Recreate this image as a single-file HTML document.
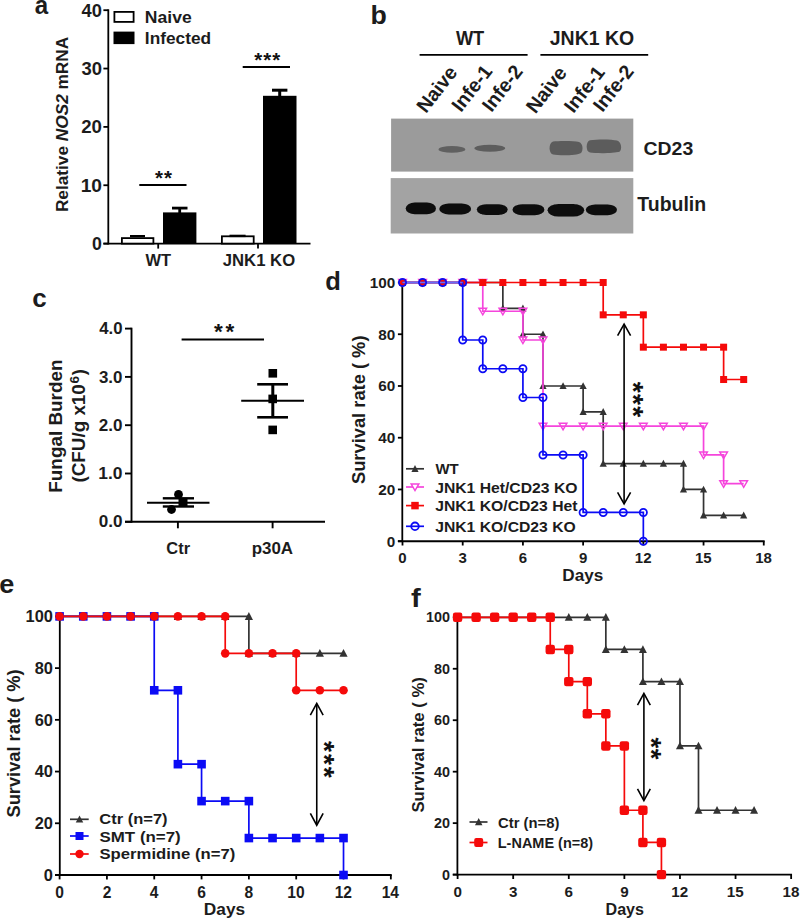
<!DOCTYPE html>
<html><head><meta charset="utf-8"><style>html,body{margin:0;padding:0;background:#fff;}svg{display:block;}text{font-family:"Liberation Sans",sans-serif;}</style></head>
<body>
<svg width="800" height="920" viewBox="0 0 800 920" font-family="Liberation Sans, sans-serif">
<rect width="800" height="920" fill="#fff"/>
<text x="34.78" y="13.9" font-size="26" textLength="13.43" lengthAdjust="spacingAndGlyphs" fill="#1c1c1c" style="font-weight:bold">a</text>
<line x1="108.3" y1="9.3" x2="108.3" y2="244.5" stroke="#000" stroke-width="1.8" stroke-linecap="butt"/>
<line x1="103.4" y1="243.6" x2="310.5" y2="243.6" stroke="#000" stroke-width="1.8" stroke-linecap="butt"/>
<line x1="103.4" y1="243.6" x2="108.3" y2="243.6" stroke="#000" stroke-width="1.8" stroke-linecap="butt"/>
<text x="92.09" y="249.9" font-size="17.5" textLength="9.84" lengthAdjust="spacingAndGlyphs" fill="#1c1c1c" style="font-weight:bold">0</text>
<line x1="103.4" y1="185.25" x2="108.3" y2="185.25" stroke="#000" stroke-width="1.8" stroke-linecap="butt"/>
<text x="80.65" y="191.55" font-size="17.5" textLength="21.36" lengthAdjust="spacingAndGlyphs" fill="#1c1c1c" style="font-weight:bold">10</text>
<line x1="103.4" y1="126.9" x2="108.3" y2="126.9" stroke="#000" stroke-width="1.8" stroke-linecap="butt"/>
<text x="81.25" y="133.2" font-size="17.5" textLength="20.74" lengthAdjust="spacingAndGlyphs" fill="#1c1c1c" style="font-weight:bold">20</text>
<line x1="103.4" y1="68.55" x2="108.3" y2="68.55" stroke="#000" stroke-width="1.8" stroke-linecap="butt"/>
<text x="81.44" y="74.85" font-size="17.5" textLength="20.54" lengthAdjust="spacingAndGlyphs" fill="#1c1c1c" style="font-weight:bold">30</text>
<line x1="103.4" y1="10.2" x2="108.3" y2="10.2" stroke="#000" stroke-width="1.8" stroke-linecap="butt"/>
<text x="81.63" y="16.5" font-size="17.5" textLength="20.35" lengthAdjust="spacingAndGlyphs" fill="#1c1c1c" style="font-weight:bold">40</text>
<line x1="158.2" y1="243.6" x2="158.2" y2="248.6" stroke="#000" stroke-width="1.8" stroke-linecap="butt"/>
<line x1="258" y1="243.6" x2="258" y2="248.6" stroke="#000" stroke-width="1.8" stroke-linecap="butt"/>
<rect x="121.9" y="238.1" width="31.5" height="5.5" fill="#fff" stroke="#000" stroke-width="1.8"/>
<line x1="130" y1="236.1" x2="145" y2="236.1" stroke="#000" stroke-width="2.2" stroke-linecap="butt"/>
<rect x="163" y="212.4" width="33.4" height="31.2" fill="#000"/>
<line x1="172" y1="208.1" x2="187.5" y2="208.1" stroke="#000" stroke-width="2.8" stroke-linecap="butt"/>
<line x1="179.7" y1="208" x2="179.7" y2="213" stroke="#000" stroke-width="2.8" stroke-linecap="butt"/>
<rect x="221.9" y="236.3" width="31.8" height="7.3" fill="#fff" stroke="#000" stroke-width="1.8"/>
<line x1="229.5" y1="235.9" x2="245.6" y2="235.9" stroke="#000" stroke-width="2.4" stroke-linecap="butt"/>
<rect x="263" y="95.8" width="33.5" height="147.8" fill="#000"/>
<line x1="272" y1="90.2" x2="287.4" y2="90.2" stroke="#000" stroke-width="3" stroke-linecap="butt"/>
<line x1="279.7" y1="90" x2="279.7" y2="96" stroke="#000" stroke-width="3" stroke-linecap="butt"/>
<line x1="139.3" y1="185" x2="186.5" y2="185" stroke="#000" stroke-width="2" stroke-linecap="butt"/>
<text x="155.04" y="185.1" font-size="20.5" fill="#111" style="font-weight:bold">*</text>
<text x="164.04" y="185.1" font-size="20.5" fill="#111" style="font-weight:bold">*</text>
<line x1="242.7" y1="67" x2="290" y2="67" stroke="#000" stroke-width="2" stroke-linecap="butt"/>
<text x="254.14" y="67.1" font-size="20.5" fill="#111" style="font-weight:bold">*</text>
<text x="263.14" y="67.1" font-size="20.5" fill="#111" style="font-weight:bold">*</text>
<text x="272.14" y="67.1" font-size="20.5" fill="#111" style="font-weight:bold">*</text>
<rect x="114.4" y="11.9" width="19.2" height="10" fill="#fff" stroke="#000" stroke-width="1.8"/>
<rect x="113.5" y="31.6" width="21" height="12.5" fill="#000"/>
<text x="144.86" y="23" font-size="17.2" textLength="46.82" lengthAdjust="spacingAndGlyphs" fill="#1c1c1c" style="font-weight:bold">Naive</text>
<text x="144.88" y="43.5" font-size="17.2" textLength="66.23" lengthAdjust="spacingAndGlyphs" fill="#1c1c1c" style="font-weight:bold">Infected</text>
<text x="145.6" y="266" font-size="17.2" textLength="25.56" lengthAdjust="spacingAndGlyphs" fill="#1c1c1c" style="font-weight:bold">WT</text>
<text x="222.75" y="266" font-size="17.2" textLength="72.39" lengthAdjust="spacingAndGlyphs" fill="#1c1c1c" style="font-weight:bold">JNK1 KO</text>
<text transform="translate(67.9 212.12) rotate(-90)" font-size="16.8" textLength="175.35" lengthAdjust="spacingAndGlyphs" fill="#1c1c1c" style="font-weight:bold">Relative <tspan style="font-style:italic">NOS2</tspan> mRNA</text>
<text x="370.56" y="24.2" font-size="26" textLength="16.33" lengthAdjust="spacingAndGlyphs" fill="#1c1c1c" style="font-weight:bold">b</text>
<text x="455.9" y="44.75" font-size="19.4" textLength="28.38" lengthAdjust="spacingAndGlyphs" fill="#1c1c1c" style="font-weight:bold">WT</text>
<text x="549.76" y="44.75" font-size="19.3" textLength="84.46" lengthAdjust="spacingAndGlyphs" fill="#1c1c1c" style="font-weight:bold">JNK1 KO</text>
<line x1="419.6" y1="54.9" x2="527.6" y2="54.9" stroke="#000" stroke-width="1.7" stroke-linecap="butt"/>
<line x1="540.4" y1="54.9" x2="648.2" y2="54.9" stroke="#000" stroke-width="1.7" stroke-linecap="butt"/>
<text transform="translate(426 114) rotate(-52)" font-size="19.7" fill="#1c1c1c" style="font-weight:bold">Naive</text>
<text transform="translate(461 113) rotate(-52)" font-size="19.7" fill="#1c1c1c" style="font-weight:bold">Infe-1</text>
<text transform="translate(491.5 113) rotate(-52)" font-size="19.7" fill="#1c1c1c" style="font-weight:bold">Infe-2</text>
<text transform="translate(535.5 114.5) rotate(-52)" font-size="19.7" fill="#1c1c1c" style="font-weight:bold">Naive</text>
<text transform="translate(573.5 114) rotate(-52)" font-size="19.7" fill="#1c1c1c" style="font-weight:bold">Infe-1</text>
<text transform="translate(602.5 113) rotate(-52)" font-size="19.7" fill="#1c1c1c" style="font-weight:bold">Infe-2</text>
<defs><filter id="bl" x="-30%" y="-80%" width="160%" height="260%"><feGaussianBlur stdDeviation="1.3"/></filter><filter id="bl2" x="-30%" y="-80%" width="160%" height="260%"><feGaussianBlur stdDeviation="0.7"/></filter></defs>
<rect x="391.1" y="118.6" width="242.2" height="53" fill="#9b9b9b"/>
<rect x="390.7" y="178.1" width="242.6" height="55.4" fill="#a3a3a3"/>
<ellipse cx="451.9" cy="149.4" rx="13.4" ry="3.3" fill="#616161" filter="url(#bl2)"/>
<ellipse cx="489.8" cy="148.2" rx="15.4" ry="3.5" fill="#5d5d5d" filter="url(#bl2)"/>
<path d="M553,141.6 C560,140.6 574,140.8 579,142 C583,143.5 583.5,150 581,153 C577,155.6 560,155.8 553,154.6 C548.5,153.6 548.3,143 553,141.6 Z" fill="#5b5b5b" filter="url(#bl2)"/>
<path d="M590,140.3 C598,139 612,139.2 617,140.6 C621.5,142 622.3,149.5 619.5,151.8 C614,153.4 597,153.6 590,152.6 C585.5,151.6 585.6,141.6 590,140.3 Z" fill="#5b5b5b" filter="url(#bl2)"/>
<rect x="405.7" y="202.5" width="30.3" height="11.8" rx="9.09" ry="5.9" fill="#0b0b0b" filter="url(#bl2)"/>
<rect x="439.3" y="203.4" width="31.8" height="11" rx="9.54" ry="5.5" fill="#0b0b0b" filter="url(#bl2)"/>
<rect x="476.8" y="204.3" width="30.9" height="10.6" rx="9.27" ry="5.3" fill="#0b0b0b" filter="url(#bl2)"/>
<rect x="512.5" y="204.2" width="31.9" height="11" rx="9.57" ry="5.5" fill="#0b0b0b" filter="url(#bl2)"/>
<rect x="547.6" y="203.9" width="36.6" height="12.6" rx="10.98" ry="6.3" fill="#0b0b0b" filter="url(#bl2)"/>
<rect x="585.8" y="204.4" width="31.2" height="10.8" rx="9.36" ry="5.4" fill="#0b0b0b" filter="url(#bl2)"/>
<text x="643.52" y="154.5" font-size="19" textLength="49.69" lengthAdjust="spacingAndGlyphs" fill="#1c1c1c" style="font-weight:bold">CD23</text>
<text x="637.31" y="211.2" font-size="19.8" textLength="68.88" lengthAdjust="spacingAndGlyphs" fill="#1c1c1c" style="font-weight:bold">Tubulin</text>
<text x="32.36" y="307.3" font-size="26" textLength="14.45" lengthAdjust="spacingAndGlyphs" fill="#1c1c1c" style="font-weight:bold">c</text>
<line x1="131.5" y1="327.7" x2="131.5" y2="522.7" stroke="#000" stroke-width="1.9" stroke-linecap="butt"/>
<line x1="125" y1="521.8" x2="325" y2="521.8" stroke="#000" stroke-width="1.9" stroke-linecap="butt"/>
<line x1="125" y1="521.8" x2="131.5" y2="521.8" stroke="#000" stroke-width="1.9" stroke-linecap="butt"/>
<text x="98.72" y="527.4" font-size="15.9" textLength="23.77" lengthAdjust="spacingAndGlyphs" fill="#1c1c1c" style="font-weight:bold">0.0</text>
<line x1="125" y1="473.5" x2="131.5" y2="473.5" stroke="#000" stroke-width="1.9" stroke-linecap="butt"/>
<text x="98.27" y="479.1" font-size="15.9" textLength="24.23" lengthAdjust="spacingAndGlyphs" fill="#1c1c1c" style="font-weight:bold">1.0</text>
<line x1="125" y1="425.2" x2="131.5" y2="425.2" stroke="#000" stroke-width="1.9" stroke-linecap="butt"/>
<text x="98.8" y="430.8" font-size="15.9" textLength="23.68" lengthAdjust="spacingAndGlyphs" fill="#1c1c1c" style="font-weight:bold">2.0</text>
<line x1="125" y1="376.9" x2="131.5" y2="376.9" stroke="#000" stroke-width="1.9" stroke-linecap="butt"/>
<text x="98.98" y="382.5" font-size="15.9" textLength="23.5" lengthAdjust="spacingAndGlyphs" fill="#1c1c1c" style="font-weight:bold">3.0</text>
<line x1="125" y1="328.6" x2="131.5" y2="328.6" stroke="#000" stroke-width="1.9" stroke-linecap="butt"/>
<text x="99.15" y="334.2" font-size="15.9" textLength="23.33" lengthAdjust="spacingAndGlyphs" fill="#1c1c1c" style="font-weight:bold">4.0</text>
<line x1="177.9" y1="521.8" x2="177.9" y2="528.3" stroke="#000" stroke-width="1.9" stroke-linecap="butt"/>
<line x1="272.6" y1="521.8" x2="272.6" y2="528.3" stroke="#000" stroke-width="1.9" stroke-linecap="butt"/>
<line x1="181.6" y1="339.5" x2="264" y2="339.5" stroke="#000" stroke-width="2" stroke-linecap="butt"/>
<text x="213.93" y="339.23" font-size="22.5" fill="#111" style="font-weight:bold">*</text>
<text x="225.43" y="339.23" font-size="22.5" fill="#111" style="font-weight:bold">*</text>
<line x1="241.2" y1="400.8" x2="304" y2="400.8" stroke="#000" stroke-width="2" stroke-linecap="butt"/>
<line x1="257.2" y1="384.3" x2="288" y2="384.3" stroke="#000" stroke-width="2.6" stroke-linecap="butt"/>
<line x1="257.2" y1="417.3" x2="288" y2="417.3" stroke="#000" stroke-width="2.6" stroke-linecap="butt"/>
<line x1="272.8" y1="384.3" x2="272.8" y2="417.3" stroke="#000" stroke-width="3" stroke-linecap="butt"/>
<rect x="268.5" y="369" width="8.6" height="8.6" fill="#000"/>
<rect x="268.4" y="394.6" width="8.6" height="8.6" fill="#000"/>
<rect x="268.4" y="425.6" width="8.6" height="8.6" fill="#000"/>
<line x1="147" y1="502.8" x2="209.5" y2="502.8" stroke="#000" stroke-width="1.9" stroke-linecap="butt"/>
<line x1="162.8" y1="498.3" x2="194" y2="498.3" stroke="#000" stroke-width="2.4" stroke-linecap="butt"/>
<line x1="162.8" y1="506.5" x2="194" y2="506.5" stroke="#000" stroke-width="2.4" stroke-linecap="butt"/>
<circle cx="178.5" cy="494.4" r="4.4" fill="#000"/>
<circle cx="171.5" cy="509.5" r="4.4" fill="#000"/>
<rect x="178.5" y="497.9" width="9" height="9" fill="#000"/>
<text x="166.34" y="553.9" font-size="15.8" textLength="23.69" lengthAdjust="spacingAndGlyphs" fill="#1c1c1c" style="font-weight:bold">Ctr</text>
<text x="251.7" y="553.9" font-size="15.8" textLength="41.43" lengthAdjust="spacingAndGlyphs" fill="#1c1c1c" style="font-weight:bold">p30A</text>
<text transform="translate(62.2 492.73) rotate(-90)" font-size="18.3" textLength="133.27" lengthAdjust="spacingAndGlyphs" fill="#1c1c1c" style="font-weight:bold">Fungal Burden</text>
<text transform="translate(85.3 482.54) rotate(-90)" font-size="18.3" textLength="98.36" lengthAdjust="spacingAndGlyphs" fill="#1c1c1c" style="font-weight:bold">(CFU/g x10</text>
<text transform="translate(78.7 383.47) rotate(-90)" font-size="13.5" textLength="7.51" lengthAdjust="spacingAndGlyphs" fill="#1c1c1c" style="font-weight:bold">6</text>
<text transform="translate(85.2 375.29) rotate(-90)" font-size="18.3" textLength="6.09" lengthAdjust="spacingAndGlyphs" fill="#1c1c1c" style="font-weight:bold">)</text>
<text x="325.18" y="289.5" font-size="25.2" textLength="15.6" lengthAdjust="spacingAndGlyphs" fill="#1c1c1c" style="font-weight:bold">d</text>
<line x1="402.3" y1="282" x2="402.3" y2="542.1" stroke="#000" stroke-width="1.8" stroke-linecap="butt"/>
<line x1="397.9" y1="541.2" x2="764.66" y2="541.2" stroke="#000" stroke-width="1.9" stroke-linecap="butt"/>
<line x1="397.9" y1="541.2" x2="402.3" y2="541.2" stroke="#000" stroke-width="1.8" stroke-linecap="butt"/>
<text x="386.82" y="546.6" font-size="15.3" textLength="8.51" lengthAdjust="spacingAndGlyphs" fill="#1c1c1c" style="font-weight:bold">0</text>
<line x1="397.9" y1="489.46" x2="402.3" y2="489.46" stroke="#000" stroke-width="1.8" stroke-linecap="butt"/>
<text x="378.33" y="494.86" font-size="15.3" textLength="17.02" lengthAdjust="spacingAndGlyphs" fill="#1c1c1c" style="font-weight:bold">20</text>
<line x1="397.9" y1="437.72" x2="402.3" y2="437.72" stroke="#000" stroke-width="1.8" stroke-linecap="butt"/>
<text x="378.33" y="443.12" font-size="15.3" textLength="17.02" lengthAdjust="spacingAndGlyphs" fill="#1c1c1c" style="font-weight:bold">40</text>
<line x1="397.9" y1="385.98" x2="402.3" y2="385.98" stroke="#000" stroke-width="1.8" stroke-linecap="butt"/>
<text x="378.33" y="391.38" font-size="15.3" textLength="17.02" lengthAdjust="spacingAndGlyphs" fill="#1c1c1c" style="font-weight:bold">60</text>
<line x1="397.9" y1="334.24" x2="402.3" y2="334.24" stroke="#000" stroke-width="1.8" stroke-linecap="butt"/>
<text x="378.33" y="339.64" font-size="15.3" textLength="17.02" lengthAdjust="spacingAndGlyphs" fill="#1c1c1c" style="font-weight:bold">80</text>
<line x1="397.9" y1="282.5" x2="402.3" y2="282.5" stroke="#000" stroke-width="1.8" stroke-linecap="butt"/>
<text x="369.84" y="287.9" font-size="15.3" textLength="25.53" lengthAdjust="spacingAndGlyphs" fill="#1c1c1c" style="font-weight:bold">100</text>
<line x1="402.5" y1="541.2" x2="402.5" y2="545.5" stroke="#000" stroke-width="1.8" stroke-linecap="butt"/>
<text x="398.34" y="563.2" font-size="15" textLength="8.34" lengthAdjust="spacingAndGlyphs" fill="#1c1c1c" style="font-weight:bold">0</text>
<line x1="462.71" y1="541.2" x2="462.71" y2="545.5" stroke="#000" stroke-width="1.8" stroke-linecap="butt"/>
<text x="458.62" y="563.2" font-size="15" textLength="8.34" lengthAdjust="spacingAndGlyphs" fill="#1c1c1c" style="font-weight:bold">3</text>
<line x1="522.92" y1="541.2" x2="522.92" y2="545.5" stroke="#000" stroke-width="1.8" stroke-linecap="butt"/>
<text x="518.76" y="563.2" font-size="15" textLength="8.34" lengthAdjust="spacingAndGlyphs" fill="#1c1c1c" style="font-weight:bold">6</text>
<line x1="583.13" y1="541.2" x2="583.13" y2="545.5" stroke="#000" stroke-width="1.8" stroke-linecap="butt"/>
<text x="578.97" y="563.2" font-size="15" textLength="8.34" lengthAdjust="spacingAndGlyphs" fill="#1c1c1c" style="font-weight:bold">9</text>
<line x1="643.34" y1="541.2" x2="643.34" y2="545.5" stroke="#000" stroke-width="1.8" stroke-linecap="butt"/>
<text x="634.83" y="563.2" font-size="15" textLength="16.69" lengthAdjust="spacingAndGlyphs" fill="#1c1c1c" style="font-weight:bold">12</text>
<line x1="703.55" y1="541.2" x2="703.55" y2="545.5" stroke="#000" stroke-width="1.8" stroke-linecap="butt"/>
<text x="694.92" y="563.2" font-size="15" textLength="16.69" lengthAdjust="spacingAndGlyphs" fill="#1c1c1c" style="font-weight:bold">15</text>
<line x1="763.76" y1="541.2" x2="763.76" y2="545.5" stroke="#000" stroke-width="1.8" stroke-linecap="butt"/>
<text x="755.17" y="563.2" font-size="15" textLength="16.69" lengthAdjust="spacingAndGlyphs" fill="#1c1c1c" style="font-weight:bold">18</text>
<text x="562.29" y="581.3" font-size="16" textLength="40.91" lengthAdjust="spacingAndGlyphs" fill="#1c1c1c" style="font-weight:bold">Days</text>
<text transform="translate(365.1 484.05) rotate(-90)" font-size="18.3" textLength="148.55" lengthAdjust="spacingAndGlyphs" fill="#1c1c1c" style="font-weight:bold">Survival rate ( %)</text>
<polyline points="402.5,282.5 502.85,282.5 502.85,308.37 522.92,308.37 522.92,334.24 542.99,334.24 542.99,385.98 583.13,385.98 583.13,411.85 603.2,411.85 603.2,463.59 683.48,463.59 683.48,489.46 703.55,489.46 703.55,515.33 743.69,515.33" fill="none" stroke="#333" stroke-width="1.7" stroke-linejoin="miter"/>
<polygon points="398.9,285.58 406.1,285.58 402.5,278.74" fill="#333"/>
<polygon points="418.97,285.58 426.17,285.58 422.57,278.74" fill="#333"/>
<polygon points="439.04,285.58 446.24,285.58 442.64,278.74" fill="#333"/>
<polygon points="459.11,285.58 466.31,285.58 462.71,278.74" fill="#333"/>
<polygon points="479.18,285.58 486.38,285.58 482.78,278.74" fill="#333"/>
<polygon points="499.25,311.45 506.45,311.45 502.85,304.61" fill="#333"/>
<polygon points="499.25,285.58 506.45,285.58 502.85,278.74" fill="#333"/>
<polygon points="519.32,337.32 526.52,337.32 522.92,330.48" fill="#333"/>
<polygon points="519.32,311.45 526.52,311.45 522.92,304.61" fill="#333"/>
<polygon points="539.39,389.06 546.59,389.06 542.99,382.22" fill="#333"/>
<polygon points="539.39,337.32 546.59,337.32 542.99,330.48" fill="#333"/>
<polygon points="559.46,389.06 566.66,389.06 563.06,382.22" fill="#333"/>
<polygon points="579.53,414.93 586.73,414.93 583.13,408.09" fill="#333"/>
<polygon points="579.53,389.06 586.73,389.06 583.13,382.22" fill="#333"/>
<polygon points="599.6,466.67 606.8,466.67 603.2,459.83" fill="#333"/>
<polygon points="599.6,414.93 606.8,414.93 603.2,408.09" fill="#333"/>
<polygon points="619.67,466.67 626.87,466.67 623.27,459.83" fill="#333"/>
<polygon points="639.74,466.67 646.94,466.67 643.34,459.83" fill="#333"/>
<polygon points="659.81,466.67 667.01,466.67 663.41,459.83" fill="#333"/>
<polygon points="679.88,492.54 687.08,492.54 683.48,485.7" fill="#333"/>
<polygon points="679.88,466.67 687.08,466.67 683.48,459.83" fill="#333"/>
<polygon points="699.95,518.41 707.15,518.41 703.55,511.57" fill="#333"/>
<polygon points="699.95,492.54 707.15,492.54 703.55,485.7" fill="#333"/>
<polygon points="720.02,518.41 727.22,518.41 723.62,511.57" fill="#333"/>
<polygon points="740.09,518.41 747.29,518.41 743.69,511.57" fill="#333"/>
<polyline points="402.5,282.5 482.78,282.5 482.78,311.24 522.92,311.24 522.92,339.99 542.99,339.99 542.99,426.22 703.55,426.22 703.55,454.97 723.62,454.97 723.62,483.71 743.69,483.71" fill="none" stroke="#f545dc" stroke-width="1.7" stroke-linejoin="miter"/>
<polygon points="398.7,279.59 406.3,279.59 402.5,286.05" fill="none" stroke="#f545dc" stroke-width="1.5" stroke-linejoin="miter"/>
<polygon points="418.77,279.59 426.37,279.59 422.57,286.05" fill="none" stroke="#f545dc" stroke-width="1.5" stroke-linejoin="miter"/>
<polygon points="438.84,279.59 446.44,279.59 442.64,286.05" fill="none" stroke="#f545dc" stroke-width="1.5" stroke-linejoin="miter"/>
<polygon points="458.91,279.59 466.51,279.59 462.71,286.05" fill="none" stroke="#f545dc" stroke-width="1.5" stroke-linejoin="miter"/>
<polygon points="478.98,308.34 486.58,308.34 482.78,314.8" fill="none" stroke="#f545dc" stroke-width="1.5" stroke-linejoin="miter"/>
<polygon points="478.98,279.59 486.58,279.59 482.78,286.05" fill="none" stroke="#f545dc" stroke-width="1.5" stroke-linejoin="miter"/>
<polygon points="499.05,308.34 506.65,308.34 502.85,314.8" fill="none" stroke="#f545dc" stroke-width="1.5" stroke-linejoin="miter"/>
<polygon points="519.12,337.08 526.72,337.08 522.92,343.54" fill="none" stroke="#f545dc" stroke-width="1.5" stroke-linejoin="miter"/>
<polygon points="519.12,308.34 526.72,308.34 522.92,314.8" fill="none" stroke="#f545dc" stroke-width="1.5" stroke-linejoin="miter"/>
<polygon points="539.19,423.32 546.79,423.32 542.99,429.78" fill="none" stroke="#f545dc" stroke-width="1.5" stroke-linejoin="miter"/>
<polygon points="539.19,337.08 546.79,337.08 542.99,343.54" fill="none" stroke="#f545dc" stroke-width="1.5" stroke-linejoin="miter"/>
<polygon points="559.26,423.32 566.86,423.32 563.06,429.78" fill="none" stroke="#f545dc" stroke-width="1.5" stroke-linejoin="miter"/>
<polygon points="579.33,423.32 586.93,423.32 583.13,429.78" fill="none" stroke="#f545dc" stroke-width="1.5" stroke-linejoin="miter"/>
<polygon points="599.4,423.32 607,423.32 603.2,429.78" fill="none" stroke="#f545dc" stroke-width="1.5" stroke-linejoin="miter"/>
<polygon points="619.47,423.32 627.07,423.32 623.27,429.78" fill="none" stroke="#f545dc" stroke-width="1.5" stroke-linejoin="miter"/>
<polygon points="639.54,423.32 647.14,423.32 643.34,429.78" fill="none" stroke="#f545dc" stroke-width="1.5" stroke-linejoin="miter"/>
<polygon points="659.61,423.32 667.21,423.32 663.41,429.78" fill="none" stroke="#f545dc" stroke-width="1.5" stroke-linejoin="miter"/>
<polygon points="679.68,423.32 687.28,423.32 683.48,429.78" fill="none" stroke="#f545dc" stroke-width="1.5" stroke-linejoin="miter"/>
<polygon points="699.75,452.06 707.35,452.06 703.55,458.52" fill="none" stroke="#f545dc" stroke-width="1.5" stroke-linejoin="miter"/>
<polygon points="699.75,423.32 707.35,423.32 703.55,429.78" fill="none" stroke="#f545dc" stroke-width="1.5" stroke-linejoin="miter"/>
<polygon points="719.82,480.8 727.42,480.8 723.62,487.26" fill="none" stroke="#f545dc" stroke-width="1.5" stroke-linejoin="miter"/>
<polygon points="719.82,452.06 727.42,452.06 723.62,458.52" fill="none" stroke="#f545dc" stroke-width="1.5" stroke-linejoin="miter"/>
<polygon points="739.89,480.8 747.49,480.8 743.69,487.26" fill="none" stroke="#f545dc" stroke-width="1.5" stroke-linejoin="miter"/>
<polyline points="402.5,282.5 603.2,282.5 603.2,314.84 643.34,314.84 643.34,347.18 723.62,347.18 723.62,379.51 743.69,379.51" fill="none" stroke="#f50a0a" stroke-width="1.7" stroke-linejoin="miter"/>
<rect x="399" y="279" width="7" height="7" fill="#f50a0a"/>
<rect x="419.07" y="279" width="7" height="7" fill="#f50a0a"/>
<rect x="439.14" y="279" width="7" height="7" fill="#f50a0a"/>
<rect x="459.21" y="279" width="7" height="7" fill="#f50a0a"/>
<rect x="479.28" y="279" width="7" height="7" fill="#f50a0a"/>
<rect x="499.35" y="279" width="7" height="7" fill="#f50a0a"/>
<rect x="519.42" y="279" width="7" height="7" fill="#f50a0a"/>
<rect x="539.49" y="279" width="7" height="7" fill="#f50a0a"/>
<rect x="559.56" y="279" width="7" height="7" fill="#f50a0a"/>
<rect x="579.63" y="279" width="7" height="7" fill="#f50a0a"/>
<rect x="599.7" y="311.34" width="7" height="7" fill="#f50a0a"/>
<rect x="599.7" y="279" width="7" height="7" fill="#f50a0a"/>
<rect x="619.77" y="311.34" width="7" height="7" fill="#f50a0a"/>
<rect x="639.84" y="343.68" width="7" height="7" fill="#f50a0a"/>
<rect x="639.84" y="311.34" width="7" height="7" fill="#f50a0a"/>
<rect x="659.91" y="343.68" width="7" height="7" fill="#f50a0a"/>
<rect x="679.98" y="343.68" width="7" height="7" fill="#f50a0a"/>
<rect x="700.05" y="343.68" width="7" height="7" fill="#f50a0a"/>
<rect x="720.12" y="376.01" width="7" height="7" fill="#f50a0a"/>
<rect x="720.12" y="343.68" width="7" height="7" fill="#f50a0a"/>
<rect x="740.19" y="376.01" width="7" height="7" fill="#f50a0a"/>
<polyline points="402.5,282.5 462.71,282.5 462.71,339.99 482.78,339.99 482.78,368.73 522.92,368.73 522.92,397.48 542.99,397.48 542.99,454.97 583.13,454.97 583.13,512.46 643.34,512.46 643.34,541.2" fill="none" stroke="#0b0bf5" stroke-width="1.7" stroke-linejoin="miter"/>
<line x1="402.5" y1="282.5" x2="462.71" y2="282.5" stroke="#6a6af8" stroke-width="1.7" stroke-linecap="butt"/>
<circle cx="402.5" cy="282.5" r="3.6" fill="none" stroke="#0b0bf5" stroke-width="1.8"/>
<circle cx="422.57" cy="282.5" r="3.6" fill="none" stroke="#0b0bf5" stroke-width="1.8"/>
<circle cx="442.64" cy="282.5" r="3.6" fill="none" stroke="#0b0bf5" stroke-width="1.8"/>
<circle cx="462.71" cy="339.99" r="3.6" fill="none" stroke="#0b0bf5" stroke-width="1.8"/>
<circle cx="462.71" cy="282.5" r="3.6" fill="none" stroke="#0b0bf5" stroke-width="1.8"/>
<circle cx="482.78" cy="368.73" r="3.6" fill="none" stroke="#0b0bf5" stroke-width="1.8"/>
<circle cx="482.78" cy="339.99" r="3.6" fill="none" stroke="#0b0bf5" stroke-width="1.8"/>
<circle cx="502.85" cy="368.73" r="3.6" fill="none" stroke="#0b0bf5" stroke-width="1.8"/>
<circle cx="522.92" cy="397.48" r="3.6" fill="none" stroke="#0b0bf5" stroke-width="1.8"/>
<circle cx="522.92" cy="368.73" r="3.6" fill="none" stroke="#0b0bf5" stroke-width="1.8"/>
<circle cx="542.99" cy="454.97" r="3.6" fill="none" stroke="#0b0bf5" stroke-width="1.8"/>
<circle cx="542.99" cy="397.48" r="3.6" fill="none" stroke="#0b0bf5" stroke-width="1.8"/>
<circle cx="563.06" cy="454.97" r="3.6" fill="none" stroke="#0b0bf5" stroke-width="1.8"/>
<circle cx="583.13" cy="512.46" r="3.6" fill="none" stroke="#0b0bf5" stroke-width="1.8"/>
<circle cx="583.13" cy="454.97" r="3.6" fill="none" stroke="#0b0bf5" stroke-width="1.8"/>
<circle cx="603.2" cy="512.46" r="3.6" fill="none" stroke="#0b0bf5" stroke-width="1.8"/>
<circle cx="623.27" cy="512.46" r="3.6" fill="none" stroke="#0b0bf5" stroke-width="1.8"/>
<circle cx="643.34" cy="541.2" r="3.6" fill="none" stroke="#0b0bf5" stroke-width="1.8"/>
<circle cx="643.34" cy="512.46" r="3.6" fill="none" stroke="#0b0bf5" stroke-width="1.8"/>
<line x1="406" y1="468.8" x2="424" y2="468.8" stroke="#333" stroke-width="1.7" stroke-linecap="butt"/>
<polygon points="411.4,471.88 418.6,471.88 415,465.04" fill="#333"/>
<line x1="406" y1="487" x2="424" y2="487" stroke="#f545dc" stroke-width="1.7" stroke-linecap="butt"/>
<polygon points="411.2,484.09 418.8,484.09 415,490.55" fill="#fff" stroke="#f545dc" stroke-width="1.5" stroke-linejoin="miter"/>
<line x1="406" y1="505.6" x2="424" y2="505.6" stroke="#f50a0a" stroke-width="1.7" stroke-linecap="butt"/>
<rect x="411.25" y="501.85" width="7.5" height="7.5" fill="#f50a0a"/>
<line x1="406" y1="526.3" x2="424" y2="526.3" stroke="#0b0bf5" stroke-width="1.7" stroke-linecap="butt"/>
<circle cx="415" cy="526.3" r="3.8" fill="none" stroke="#0b0bf5" stroke-width="1.8"/>
<text x="435.4" y="474.4" font-size="15.3" textLength="23.24" lengthAdjust="spacingAndGlyphs" fill="#1c1c1c" style="font-weight:bold">WT</text>
<text x="435.16" y="492.5" font-size="15.3" textLength="142.32" lengthAdjust="spacingAndGlyphs" fill="#1c1c1c" style="font-weight:bold">JNK1 Het/CD23 KO</text>
<text x="435.16" y="511" font-size="15.3" textLength="142.34" lengthAdjust="spacingAndGlyphs" fill="#1c1c1c" style="font-weight:bold">JNK1 KO/CD23 Het</text>
<text x="435.16" y="531.5" font-size="15.3" textLength="140.59" lengthAdjust="spacingAndGlyphs" fill="#1c1c1c" style="font-weight:bold">JNK1 KO/CD23 KO</text>
<line x1="624.1" y1="324.6" x2="624.1" y2="503.4" stroke="#000" stroke-width="1.6" stroke-linecap="butt"/>
<polyline points="617.6,335.6 624.1,324.1 630.6,335.6" fill="none" stroke="#000" stroke-width="1.6" stroke-linejoin="miter"/>
<polyline points="617.6,492.4 624.1,503.9 630.6,492.4" fill="none" stroke="#000" stroke-width="1.6" stroke-linejoin="miter"/>
<text transform="translate(623.85 381.72) rotate(90)" font-size="28" fill="#111" style="font-weight:bold">*</text>
<text transform="translate(623.85 393.97) rotate(90)" font-size="28" fill="#111" style="font-weight:bold">*</text>
<text transform="translate(623.85 406.22) rotate(90)" font-size="28" fill="#111" style="font-weight:bold">*</text>
<text x="-0.78" y="593.2" font-size="26.5" textLength="15.06" lengthAdjust="spacingAndGlyphs" fill="#1c1c1c" style="font-weight:bold">e</text>
<line x1="59.8" y1="615.9" x2="59.8" y2="875.9" stroke="#000" stroke-width="1.8" stroke-linecap="butt"/>
<line x1="55" y1="875" x2="391.74" y2="875" stroke="#000" stroke-width="1.9" stroke-linecap="butt"/>
<line x1="55" y1="875" x2="59.8" y2="875" stroke="#000" stroke-width="1.8" stroke-linecap="butt"/>
<text x="43.75" y="880.8" font-size="16.4" textLength="9.12" lengthAdjust="spacingAndGlyphs" fill="#1c1c1c" style="font-weight:bold">0</text>
<line x1="55" y1="823.28" x2="59.8" y2="823.28" stroke="#000" stroke-width="1.8" stroke-linecap="butt"/>
<text x="34.65" y="829.08" font-size="16.4" textLength="18.24" lengthAdjust="spacingAndGlyphs" fill="#1c1c1c" style="font-weight:bold">20</text>
<line x1="55" y1="771.56" x2="59.8" y2="771.56" stroke="#000" stroke-width="1.8" stroke-linecap="butt"/>
<text x="34.65" y="777.36" font-size="16.4" textLength="18.24" lengthAdjust="spacingAndGlyphs" fill="#1c1c1c" style="font-weight:bold">40</text>
<line x1="55" y1="719.84" x2="59.8" y2="719.84" stroke="#000" stroke-width="1.8" stroke-linecap="butt"/>
<text x="34.65" y="725.64" font-size="16.4" textLength="18.24" lengthAdjust="spacingAndGlyphs" fill="#1c1c1c" style="font-weight:bold">60</text>
<line x1="55" y1="668.12" x2="59.8" y2="668.12" stroke="#000" stroke-width="1.8" stroke-linecap="butt"/>
<text x="34.65" y="673.92" font-size="16.4" textLength="18.24" lengthAdjust="spacingAndGlyphs" fill="#1c1c1c" style="font-weight:bold">80</text>
<line x1="55" y1="616.4" x2="59.8" y2="616.4" stroke="#000" stroke-width="1.8" stroke-linecap="butt"/>
<text x="25.55" y="622.2" font-size="16.4" textLength="27.36" lengthAdjust="spacingAndGlyphs" fill="#1c1c1c" style="font-weight:bold">100</text>
<line x1="59.6" y1="875" x2="59.6" y2="879.4" stroke="#000" stroke-width="1.8" stroke-linecap="butt"/>
<text x="55.27" y="897.8" font-size="15.6" textLength="8.68" lengthAdjust="spacingAndGlyphs" fill="#1c1c1c" style="font-weight:bold">0</text>
<line x1="106.92" y1="875" x2="106.92" y2="879.4" stroke="#000" stroke-width="1.8" stroke-linecap="butt"/>
<text x="102.63" y="897.8" font-size="15.6" textLength="8.68" lengthAdjust="spacingAndGlyphs" fill="#1c1c1c" style="font-weight:bold">2</text>
<line x1="154.24" y1="875" x2="154.24" y2="879.4" stroke="#000" stroke-width="1.8" stroke-linecap="butt"/>
<text x="149.83" y="897.8" font-size="15.6" textLength="8.68" lengthAdjust="spacingAndGlyphs" fill="#1c1c1c" style="font-weight:bold">4</text>
<line x1="201.56" y1="875" x2="201.56" y2="879.4" stroke="#000" stroke-width="1.8" stroke-linecap="butt"/>
<text x="197.23" y="897.8" font-size="15.6" textLength="8.68" lengthAdjust="spacingAndGlyphs" fill="#1c1c1c" style="font-weight:bold">6</text>
<line x1="248.88" y1="875" x2="248.88" y2="879.4" stroke="#000" stroke-width="1.8" stroke-linecap="butt"/>
<text x="244.55" y="897.8" font-size="15.6" textLength="8.68" lengthAdjust="spacingAndGlyphs" fill="#1c1c1c" style="font-weight:bold">8</text>
<line x1="296.2" y1="875" x2="296.2" y2="879.4" stroke="#000" stroke-width="1.8" stroke-linecap="butt"/>
<text x="287.35" y="897.8" font-size="15.6" textLength="17.35" lengthAdjust="spacingAndGlyphs" fill="#1c1c1c" style="font-weight:bold">10</text>
<line x1="343.52" y1="875" x2="343.52" y2="879.4" stroke="#000" stroke-width="1.8" stroke-linecap="butt"/>
<text x="334.67" y="897.8" font-size="15.6" textLength="17.35" lengthAdjust="spacingAndGlyphs" fill="#1c1c1c" style="font-weight:bold">12</text>
<line x1="390.84" y1="875" x2="390.84" y2="879.4" stroke="#000" stroke-width="1.8" stroke-linecap="butt"/>
<text x="381.71" y="897.8" font-size="15.6" textLength="17.35" lengthAdjust="spacingAndGlyphs" fill="#1c1c1c" style="font-weight:bold">14</text>
<text x="203.88" y="914.9" font-size="16.3" textLength="41.33" lengthAdjust="spacingAndGlyphs" fill="#1c1c1c" style="font-weight:bold">Days</text>
<text transform="translate(20.1 817.55) rotate(-90)" font-size="18.2" textLength="148.25" lengthAdjust="spacingAndGlyphs" fill="#1c1c1c" style="font-weight:bold">Survival rate ( %)</text>
<polyline points="59.6,616.4 248.88,616.4 248.88,653.34 343.52,653.34" fill="none" stroke="#333" stroke-width="1.7" stroke-linejoin="miter"/>
<polyline points="59.6,616.4 154.24,616.4 154.24,690.29 177.9,690.29 177.9,764.17 201.56,764.17 201.56,801.11 248.88,801.11 248.88,838.06 343.52,838.06 343.52,875" fill="none" stroke="#0b0bf5" stroke-width="1.7" stroke-linejoin="miter"/>
<polyline points="59.6,616.4 225.22,616.4 225.22,653.34 296.2,653.34 296.2,690.29 343.52,690.29" fill="none" stroke="#f50a0a" stroke-width="1.7" stroke-linejoin="miter"/>
<polygon points="55.5,619.91 63.7,619.91 59.6,612.12" fill="#333"/>
<polygon points="79.16,619.91 87.36,619.91 83.26,612.12" fill="#333"/>
<polygon points="102.82,619.91 111.02,619.91 106.92,612.12" fill="#333"/>
<polygon points="126.48,619.91 134.68,619.91 130.58,612.12" fill="#333"/>
<polygon points="150.14,619.91 158.34,619.91 154.24,612.12" fill="#333"/>
<polygon points="173.8,619.91 182,619.91 177.9,612.12" fill="#333"/>
<polygon points="197.46,619.91 205.66,619.91 201.56,612.12" fill="#333"/>
<polygon points="221.12,619.91 229.32,619.91 225.22,612.12" fill="#333"/>
<polygon points="244.78,656.85 252.98,656.85 248.88,649.06" fill="#333"/>
<polygon points="244.78,619.91 252.98,619.91 248.88,612.12" fill="#333"/>
<polygon points="268.44,656.85 276.64,656.85 272.54,649.06" fill="#333"/>
<polygon points="292.1,656.85 300.3,656.85 296.2,649.06" fill="#333"/>
<polygon points="315.76,656.85 323.96,656.85 319.86,649.06" fill="#333"/>
<polygon points="339.42,656.85 347.62,656.85 343.52,649.06" fill="#333"/>
<rect x="55.3" y="612.1" width="8.6" height="8.6" fill="#0b0bf5"/>
<rect x="78.96" y="612.1" width="8.6" height="8.6" fill="#0b0bf5"/>
<rect x="102.62" y="612.1" width="8.6" height="8.6" fill="#0b0bf5"/>
<rect x="126.28" y="612.1" width="8.6" height="8.6" fill="#0b0bf5"/>
<rect x="149.94" y="685.99" width="8.6" height="8.6" fill="#0b0bf5"/>
<rect x="149.94" y="612.1" width="8.6" height="8.6" fill="#0b0bf5"/>
<rect x="173.6" y="759.87" width="8.6" height="8.6" fill="#0b0bf5"/>
<rect x="173.6" y="685.99" width="8.6" height="8.6" fill="#0b0bf5"/>
<rect x="197.26" y="796.81" width="8.6" height="8.6" fill="#0b0bf5"/>
<rect x="197.26" y="759.87" width="8.6" height="8.6" fill="#0b0bf5"/>
<rect x="220.92" y="796.81" width="8.6" height="8.6" fill="#0b0bf5"/>
<rect x="244.58" y="833.76" width="8.6" height="8.6" fill="#0b0bf5"/>
<rect x="244.58" y="796.81" width="8.6" height="8.6" fill="#0b0bf5"/>
<rect x="268.24" y="833.76" width="8.6" height="8.6" fill="#0b0bf5"/>
<rect x="291.9" y="833.76" width="8.6" height="8.6" fill="#0b0bf5"/>
<rect x="315.56" y="833.76" width="8.6" height="8.6" fill="#0b0bf5"/>
<rect x="339.22" y="870.7" width="8.6" height="8.6" fill="#0b0bf5"/>
<rect x="339.22" y="833.76" width="8.6" height="8.6" fill="#0b0bf5"/>
<circle cx="59.6" cy="616.4" r="4.3" fill="#f50a0a"/>
<circle cx="83.26" cy="616.4" r="4.3" fill="#f50a0a"/>
<circle cx="106.92" cy="616.4" r="4.3" fill="#f50a0a"/>
<circle cx="130.58" cy="616.4" r="4.3" fill="#f50a0a"/>
<circle cx="154.24" cy="616.4" r="4.3" fill="#f50a0a"/>
<circle cx="177.9" cy="616.4" r="4.3" fill="#f50a0a"/>
<circle cx="201.56" cy="616.4" r="4.3" fill="#f50a0a"/>
<circle cx="225.22" cy="653.34" r="4.3" fill="#f50a0a"/>
<circle cx="225.22" cy="616.4" r="4.3" fill="#f50a0a"/>
<circle cx="248.88" cy="653.34" r="4.3" fill="#f50a0a"/>
<circle cx="272.54" cy="653.34" r="4.3" fill="#f50a0a"/>
<circle cx="296.2" cy="690.29" r="4.3" fill="#f50a0a"/>
<circle cx="296.2" cy="653.34" r="4.3" fill="#f50a0a"/>
<circle cx="319.86" cy="690.29" r="4.3" fill="#f50a0a"/>
<circle cx="343.52" cy="690.29" r="4.3" fill="#f50a0a"/>
<line x1="70" y1="819.3" x2="88.7" y2="819.3" stroke="#333" stroke-width="1.7" stroke-linecap="butt"/>
<polygon points="75.75,822.51 83.25,822.51 79.5,815.38" fill="#333"/>
<line x1="70" y1="836" x2="88.7" y2="836" stroke="#0b0bf5" stroke-width="1.7" stroke-linecap="butt"/>
<rect x="75.5" y="832" width="8" height="8" fill="#0b0bf5"/>
<line x1="70" y1="854" x2="88.7" y2="854" stroke="#f50a0a" stroke-width="1.7" stroke-linecap="butt"/>
<circle cx="79.5" cy="854" r="4.2" fill="#f50a0a"/>
<text x="99.34" y="824" font-size="15.5" textLength="68.27" lengthAdjust="spacingAndGlyphs" fill="#1c1c1c" style="font-weight:bold">Ctr (n=7)</text>
<text x="99.49" y="841.5" font-size="15.5" textLength="81.28" lengthAdjust="spacingAndGlyphs" fill="#1c1c1c" style="font-weight:bold">SMT (n=7)</text>
<text x="99.5" y="859" font-size="15.5" textLength="135.76" lengthAdjust="spacingAndGlyphs" fill="#1c1c1c" style="font-weight:bold">Spermidine (n=7)</text>
<line x1="316.75" y1="703.85" x2="316.75" y2="824.7" stroke="#000" stroke-width="1.6" stroke-linecap="butt"/>
<polyline points="310.35,715.15 316.75,703.35 323.15,715.15" fill="none" stroke="#000" stroke-width="1.6" stroke-linejoin="miter"/>
<polyline points="310.35,813.4 316.75,825.2 323.15,813.4" fill="none" stroke="#000" stroke-width="1.6" stroke-linejoin="miter"/>
<text transform="translate(314.59 741.01) rotate(90)" font-size="28.5" fill="#111" style="font-weight:bold">*</text>
<text transform="translate(314.59 753.91) rotate(90)" font-size="28.5" fill="#111" style="font-weight:bold">*</text>
<text transform="translate(314.59 766.81) rotate(90)" font-size="28.5" fill="#111" style="font-weight:bold">*</text>
<text x="410.96" y="606.6" font-size="26" textLength="9.78" lengthAdjust="spacingAndGlyphs" fill="#1c1c1c" style="font-weight:bold">f</text>
<line x1="457.4" y1="616.8" x2="457.4" y2="875.5" stroke="#000" stroke-width="1.8" stroke-linecap="butt"/>
<line x1="452.8" y1="874.6" x2="792.04" y2="874.6" stroke="#000" stroke-width="1.9" stroke-linecap="butt"/>
<line x1="452.8" y1="874.6" x2="457.4" y2="874.6" stroke="#000" stroke-width="1.8" stroke-linecap="butt"/>
<text x="441.98" y="879.7" font-size="14.4" textLength="8.01" lengthAdjust="spacingAndGlyphs" fill="#1c1c1c" style="font-weight:bold">0</text>
<line x1="452.8" y1="823.14" x2="457.4" y2="823.14" stroke="#000" stroke-width="1.8" stroke-linecap="butt"/>
<text x="433.99" y="828.24" font-size="14.4" textLength="16.02" lengthAdjust="spacingAndGlyphs" fill="#1c1c1c" style="font-weight:bold">20</text>
<line x1="452.8" y1="771.68" x2="457.4" y2="771.68" stroke="#000" stroke-width="1.8" stroke-linecap="butt"/>
<text x="433.99" y="776.78" font-size="14.4" textLength="16.02" lengthAdjust="spacingAndGlyphs" fill="#1c1c1c" style="font-weight:bold">40</text>
<line x1="452.8" y1="720.22" x2="457.4" y2="720.22" stroke="#000" stroke-width="1.8" stroke-linecap="butt"/>
<text x="433.99" y="725.32" font-size="14.4" textLength="16.02" lengthAdjust="spacingAndGlyphs" fill="#1c1c1c" style="font-weight:bold">60</text>
<line x1="452.8" y1="668.76" x2="457.4" y2="668.76" stroke="#000" stroke-width="1.8" stroke-linecap="butt"/>
<text x="433.99" y="673.86" font-size="14.4" textLength="16.02" lengthAdjust="spacingAndGlyphs" fill="#1c1c1c" style="font-weight:bold">80</text>
<line x1="452.8" y1="617.3" x2="457.4" y2="617.3" stroke="#000" stroke-width="1.8" stroke-linecap="butt"/>
<text x="426" y="622.4" font-size="14.4" textLength="24.03" lengthAdjust="spacingAndGlyphs" fill="#1c1c1c" style="font-weight:bold">100</text>
<line x1="457.6" y1="874.6" x2="457.6" y2="879" stroke="#000" stroke-width="1.8" stroke-linecap="butt"/>
<text x="453.38" y="896.5" font-size="15.2" textLength="8.45" lengthAdjust="spacingAndGlyphs" fill="#1c1c1c" style="font-weight:bold">0</text>
<line x1="513.19" y1="874.6" x2="513.19" y2="879" stroke="#000" stroke-width="1.8" stroke-linecap="butt"/>
<text x="509.05" y="896.5" font-size="15.2" textLength="8.45" lengthAdjust="spacingAndGlyphs" fill="#1c1c1c" style="font-weight:bold">3</text>
<line x1="568.78" y1="874.6" x2="568.78" y2="879" stroke="#000" stroke-width="1.8" stroke-linecap="butt"/>
<text x="564.56" y="896.5" font-size="15.2" textLength="8.45" lengthAdjust="spacingAndGlyphs" fill="#1c1c1c" style="font-weight:bold">6</text>
<line x1="624.37" y1="874.6" x2="624.37" y2="879" stroke="#000" stroke-width="1.8" stroke-linecap="butt"/>
<text x="620.15" y="896.5" font-size="15.2" textLength="8.45" lengthAdjust="spacingAndGlyphs" fill="#1c1c1c" style="font-weight:bold">9</text>
<line x1="679.96" y1="874.6" x2="679.96" y2="879" stroke="#000" stroke-width="1.8" stroke-linecap="butt"/>
<text x="671.33" y="896.5" font-size="15.2" textLength="16.91" lengthAdjust="spacingAndGlyphs" fill="#1c1c1c" style="font-weight:bold">12</text>
<line x1="735.55" y1="874.6" x2="735.55" y2="879" stroke="#000" stroke-width="1.8" stroke-linecap="butt"/>
<text x="726.81" y="896.5" font-size="15.2" textLength="16.91" lengthAdjust="spacingAndGlyphs" fill="#1c1c1c" style="font-weight:bold">15</text>
<line x1="791.14" y1="874.6" x2="791.14" y2="879" stroke="#000" stroke-width="1.8" stroke-linecap="butt"/>
<text x="782.44" y="896.5" font-size="15.2" textLength="16.91" lengthAdjust="spacingAndGlyphs" fill="#1c1c1c" style="font-weight:bold">18</text>
<text x="605.56" y="915" font-size="16" textLength="38.4" lengthAdjust="spacingAndGlyphs" fill="#1c1c1c" style="font-weight:bold">Days</text>
<text transform="translate(423.5 812.6) rotate(-90)" font-size="17" textLength="135.42" lengthAdjust="spacingAndGlyphs" fill="#1c1c1c" style="font-weight:bold">Survival rate ( %)</text>
<polyline points="457.6,617.3 605.84,617.3 605.84,649.46 642.9,649.46 642.9,681.62 679.96,681.62 679.96,745.95 698.49,745.95 698.49,810.27 754.08,810.27" fill="none" stroke="#333" stroke-width="1.7" stroke-linejoin="miter"/>
<polyline points="457.6,617.3 550.25,617.3 550.25,649.46 568.78,649.46 568.78,681.62 587.31,681.62 587.31,713.79 605.84,713.79 605.84,745.95 624.37,745.95 624.37,810.27 642.9,810.27 642.9,842.44 661.43,842.44 661.43,874.6" fill="none" stroke="#f50a0a" stroke-width="1.7" stroke-linejoin="miter"/>
<polygon points="453.6,620.72 461.6,620.72 457.6,613.12" fill="#333"/>
<polygon points="472.13,620.72 480.13,620.72 476.13,613.12" fill="#333"/>
<polygon points="490.66,620.72 498.66,620.72 494.66,613.12" fill="#333"/>
<polygon points="509.19,620.72 517.19,620.72 513.19,613.12" fill="#333"/>
<polygon points="527.72,620.72 535.72,620.72 531.72,613.12" fill="#333"/>
<polygon points="546.25,620.72 554.25,620.72 550.25,613.12" fill="#333"/>
<polygon points="564.78,620.72 572.78,620.72 568.78,613.12" fill="#333"/>
<polygon points="583.31,620.72 591.31,620.72 587.31,613.12" fill="#333"/>
<polygon points="601.84,652.88 609.84,652.88 605.84,645.28" fill="#333"/>
<polygon points="601.84,620.72 609.84,620.72 605.84,613.12" fill="#333"/>
<polygon points="620.37,652.88 628.37,652.88 624.37,645.28" fill="#333"/>
<polygon points="638.9,685.04 646.9,685.04 642.9,677.45" fill="#333"/>
<polygon points="638.9,652.88 646.9,652.88 642.9,645.28" fill="#333"/>
<polygon points="657.43,685.04 665.43,685.04 661.43,677.45" fill="#333"/>
<polygon points="675.96,749.37 683.96,749.37 679.96,741.77" fill="#333"/>
<polygon points="675.96,685.04 683.96,685.04 679.96,677.45" fill="#333"/>
<polygon points="694.49,813.69 702.49,813.69 698.49,806.1" fill="#333"/>
<polygon points="694.49,749.37 702.49,749.37 698.49,741.77" fill="#333"/>
<polygon points="713.02,813.69 721.02,813.69 717.02,806.1" fill="#333"/>
<polygon points="731.55,813.69 739.55,813.69 735.55,806.1" fill="#333"/>
<polygon points="750.08,813.69 758.08,813.69 754.08,806.1" fill="#333"/>
<rect x="452.9" y="612.6" width="9.4" height="9.4" fill="#f50a0a" rx="2.2"/>
<rect x="471.43" y="612.6" width="9.4" height="9.4" fill="#f50a0a" rx="2.2"/>
<rect x="489.96" y="612.6" width="9.4" height="9.4" fill="#f50a0a" rx="2.2"/>
<rect x="508.49" y="612.6" width="9.4" height="9.4" fill="#f50a0a" rx="2.2"/>
<rect x="527.02" y="612.6" width="9.4" height="9.4" fill="#f50a0a" rx="2.2"/>
<rect x="545.55" y="644.76" width="9.4" height="9.4" fill="#f50a0a" rx="2.2"/>
<rect x="545.55" y="612.6" width="9.4" height="9.4" fill="#f50a0a" rx="2.2"/>
<rect x="564.08" y="676.92" width="9.4" height="9.4" fill="#f50a0a" rx="2.2"/>
<rect x="564.08" y="644.76" width="9.4" height="9.4" fill="#f50a0a" rx="2.2"/>
<rect x="582.61" y="709.09" width="9.4" height="9.4" fill="#f50a0a" rx="2.2"/>
<rect x="582.61" y="676.92" width="9.4" height="9.4" fill="#f50a0a" rx="2.2"/>
<rect x="601.14" y="741.25" width="9.4" height="9.4" fill="#f50a0a" rx="2.2"/>
<rect x="601.14" y="709.09" width="9.4" height="9.4" fill="#f50a0a" rx="2.2"/>
<rect x="619.67" y="805.57" width="9.4" height="9.4" fill="#f50a0a" rx="2.2"/>
<rect x="619.67" y="741.25" width="9.4" height="9.4" fill="#f50a0a" rx="2.2"/>
<rect x="638.2" y="837.74" width="9.4" height="9.4" fill="#f50a0a" rx="2.2"/>
<rect x="638.2" y="805.57" width="9.4" height="9.4" fill="#f50a0a" rx="2.2"/>
<rect x="656.73" y="869.9" width="9.4" height="9.4" fill="#f50a0a" rx="2.2"/>
<rect x="656.73" y="837.74" width="9.4" height="9.4" fill="#f50a0a" rx="2.2"/>
<line x1="469.5" y1="822" x2="487.5" y2="822" stroke="#333" stroke-width="1.7" stroke-linecap="butt"/>
<polygon points="474.95,825.21 482.45,825.21 478.7,818.08" fill="#333"/>
<line x1="469.5" y1="842.5" x2="487.5" y2="842.5" stroke="#f50a0a" stroke-width="1.7" stroke-linecap="butt"/>
<rect x="474.2" y="838" width="9" height="9" fill="#f50a0a" rx="2"/>
<text x="498.11" y="827.5" font-size="14.8" textLength="61.32" lengthAdjust="spacingAndGlyphs" fill="#1c1c1c" style="font-weight:bold">Ctr (n=8)</text>
<text x="497.76" y="847.5" font-size="14.8" textLength="95.34" lengthAdjust="spacingAndGlyphs" fill="#1c1c1c" style="font-weight:bold">L-NAME (n=8)</text>
<line x1="643.9" y1="693.9" x2="643.9" y2="800.1" stroke="#000" stroke-width="1.6" stroke-linecap="butt"/>
<polyline points="637.5,705.2 643.9,693.4 650.3,705.2" fill="none" stroke="#000" stroke-width="1.6" stroke-linejoin="miter"/>
<polyline points="637.5,788.8 643.9,800.6 650.3,788.8" fill="none" stroke="#000" stroke-width="1.6" stroke-linejoin="miter"/>
<text transform="translate(642.31 737.52) rotate(90)" font-size="27.5" fill="#111" style="font-weight:bold">*</text>
<text transform="translate(642.31 748.82) rotate(90)" font-size="27.5" fill="#111" style="font-weight:bold">*</text>
</svg>
</body></html>
